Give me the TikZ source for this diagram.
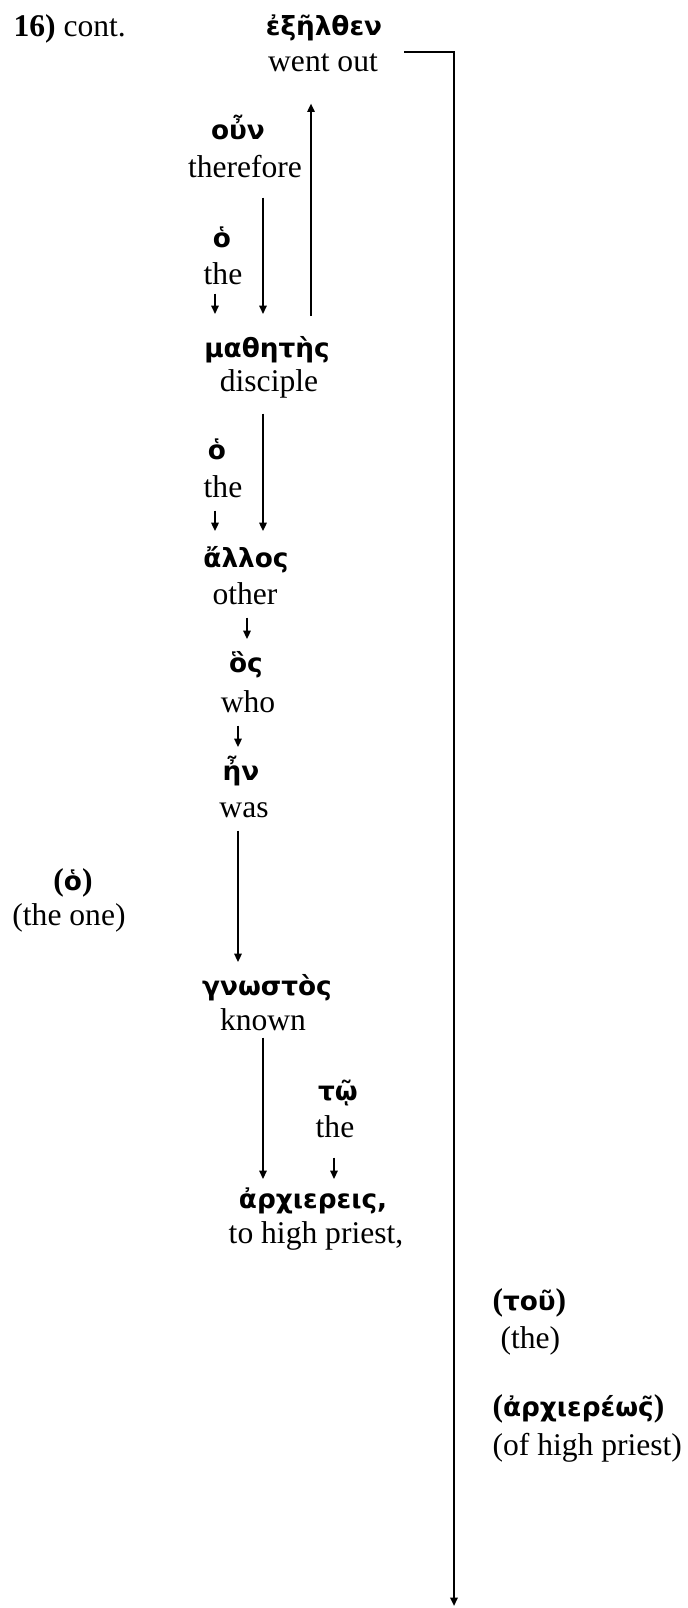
\documentclass[tikz,border=0pt]{standalone}
\usepackage{fontspec}
\setmainfont{Liberation Serif}
\newfontfamily\greekfont{DejaVu Sans}
\usetikzlibrary{arrows.meta,positioning}

% bold serif brackets around a greek word
\newcommand{\bpar}[1]{{\rmfamily\fontsize{12}{14}\selectfont\bfseries#1}}

\begin{document}
\begin{tikzpicture}[x=0.38pt, y=-0.38pt,
  word/.style = {anchor=base, inner sep=0pt, text height=10pt, text depth=2.5pt, font=\fontsize{10}{12}\selectfont\greekfont\bfseries},
  gloss/.style = {anchor=base, inner sep=0pt, text height=8.5pt, text depth=2.7pt, font=\fontsize{12}{14}\selectfont},
  link/.style = {-{Triangle[length=3.2pt,width=2.8pt]}, line width=0.7pt}]
  \useasboundingbox (0,0) rectangle (687,1608);

  \node[gloss, anchor=base west] (verse) at (13,37) {\textbf{16)} cont.};

  % main line
  \node[word] (exelthen) at (324,36) {ἐξῆλθεν};
  \node[gloss] (wentout) at (323,72) {went out};
  \node[word] (oun) at (238,140) {οὖν};
  \node[gloss] (therefore) at (245,178) {therefore};
  \node[word] (hoa) at (222,248) {ὁ};
  \node[gloss] (thea) at (223,285) {the};
  \node[word] (mathetes) at (267,358) {μαθητὴς};
  \node[gloss] (disciple) at (269,392) {disciple};
  \node[word] (hob) at (217,460) {ὁ};
  \node[gloss] (theb) at (223,498) {the};
  \node[word] (allos) at (246,568) {ἄλλος};
  \node[gloss] (other) at (245,605) {other};
  \node[word] (hos) at (246,672) {ὃς};
  \node[gloss] (who) at (248,712) {who};
  \node[word] (en) at (241,780) {ἦν};
  \node[gloss] (was) at (244,817) {was};
  \node[word] (hoc) at (73,890) {\bpar{(}ὁ\bpar{)}};
  \node[gloss] (theone) at (69,925) {(the one)};
  \node[word] (gnostos) at (267,995) {γνωστὸς};
  \node[gloss] (known) at (263,1030) {known};
  \node[word] (to) at (338,1100) {τῷ};
  \node[gloss] (thec) at (335,1137) {the};
  \node[word] (archierei) at (313,1208) {ἀρχιερεις,};
  \node[gloss] (highpriest) at (316,1243) {to high priest,};

  % implied words
  \node[word, anchor=base west] (tou) at (492,1310) {\bpar{(}τοῦ\bpar{)}};
  \node[gloss, anchor=base west] (thed) at (500,1348) {(the)};
  \node[word, anchor=base west] (archiereos) at (492,1416) {\bpar{(}ἀρχιερέως͂\bpar{)}};
  \node[gloss, anchor=base west] (ofhighpriest) at (492,1455) {(of high priest)};

  % arrows
  \draw[link, shorten <=5.7pt, shorten >=9.1pt] (mathetes.north -| 311,0) -- (wentout.south -| 311,0);
  \draw[link, shorten <=4.6pt, shorten >=6.5pt] (therefore.south -| 263,0) -- (mathetes.north -| 263,0);
  \draw[link, shorten <=0.4pt, shorten >=6.5pt] (thea.south -| 215,0) -- (mathetes.north -| 215,0);
  \draw[link, shorten <=5.3pt, shorten >=3.8pt] (disciple.south -| 263,0) -- (allos.north -| 263,0);
  \draw[link, shorten <=1.9pt, shorten >=3.8pt] (theb.south -| 215,0) -- (allos.north -| 215,0);
  \draw[link, shorten <=1.9pt, shorten >=2.3pt] (other.south -| 247,0) -- (hos.north -| 247,0);
  \draw[link, shorten <=2.3pt, shorten >=2.3pt] (who.south -| 238,0) -- (en.north -| 238,0);
  \draw[link, shorten <=2.3pt, shorten >=2.3pt] (was.south -| 238,0) -- (gnostos.north -| 238,0);
  \draw[link, shorten >=0.8pt] (known.south -| 263,0) -- (archierei.north -| 263,0);
  \draw[link, shorten <=4.9pt, shorten >=0.8pt] (thec.south -| 334,0) -- (archierei.north -| 334,0);

  \coordinate (drop) at (454,1606);
  \draw[link, line width=0.8pt] ([xshift=9.9pt, yshift=-1.1pt]wentout.north east) -| (drop);
\end{tikzpicture}
\end{document}
